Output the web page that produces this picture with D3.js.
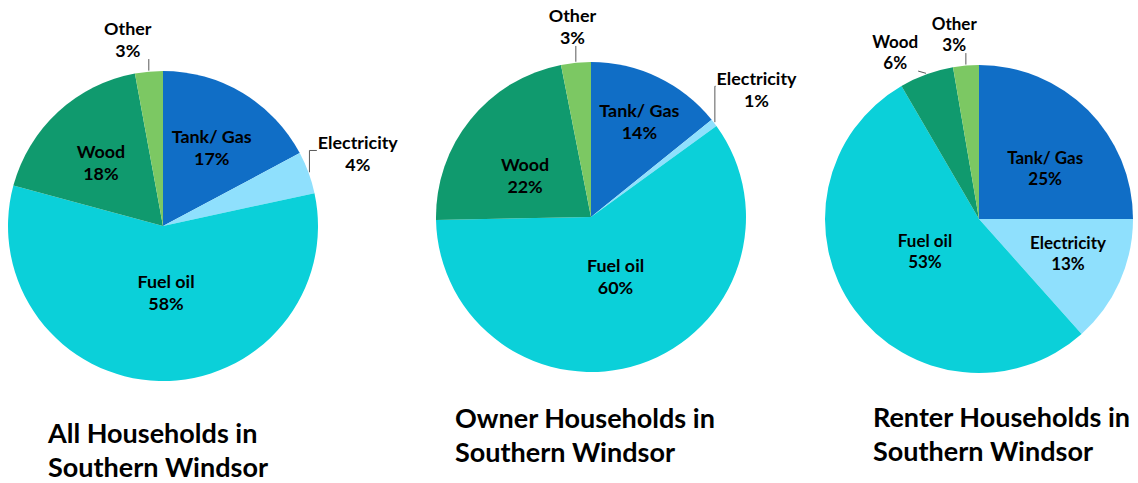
<!DOCTYPE html>
<html>
<head>
<meta charset="utf-8">
<script src="https://cdn.jsdelivr.net/npm/d3@7"></script>
<style>
  body { margin: 0; background: #fff; }
  svg { display: block; }
  text { font-family: Lato, "Open Sans", sans-serif; font-weight: bold; fill: #000; }
</style>
</head>
<body>
<script>
// data
var categories = ['Tank/ Gas', 'Electricity', 'Fuel oil', 'Wood', 'Other'];
var allValues = [17.2, 4.4, 57.6, 17.9, 2.9];
var ownerValues = [14.2, 0.8, 59.7, 22.2, 3.1];
var renterValues = [25.0, 13.4, 53.2, 5.7, 2.7];
var allTitle = ['All Households in', 'Southern Windsor'];
var ownerTitle = ['Owner Households in', 'Southern Windsor'];
var renterTitle = ['Renter Households in', 'Southern Windsor'];
var colors = ['#106EC6', '#8FE0FD', '#0BD0D9', '#109A6E', '#7CC863'];

// layout: label placement = [radius factor, angle nudge in degrees], leader type
var pies = [
  { values: allValues, title: allTitle, cx: 163, cy: 226, r: 155, tx: 48, ty: 443, labelScale: 1,
    place: [[0.594, 1], [1.339, 0], [0.433, -4], [0.570, -2], [1.221, -5.5]],
    leader: [null, 'side', null, null, 'bottom'] },
  { values: ownerValues, title: ownerTitle, cx: 591, cy: 217, r: 155, tx: 455, ty: 428, labelScale: 1,
    place: [[0.688, 1.4], [1.345, 0], [0.418, -3.7], [0.501, -7], [1.232, 0]],
    leader: [null, 'side', null, null, 'bottom'] },
  { values: renterValues, title: renterTitle, cx: 979, cy: 219, r: 154, tx: 873, ty: 427, labelScale: 0.95,
    place: [[0.538, 8], [0.621, -2.6], [0.411, 4.6], [1.208, -6.8], [1.206, -2.8]],
    leader: [null, null, null, 'bottom', 'bottom'] }
];

var width = 1138, height = 483;
var svg = d3.select('body').append('svg').attr('width', width).attr('height', height);

// font size that gives a string a target width
function fitSize(str, target) {
  var t = svg.append('text').style('font-size', '100px').text(str);
  var w = t.node().getComputedTextLength();
  t.remove();
  return 100 * target / w;
}
var titleSize = fitSize('Owner Households in', 260);
var labelSize = fitSize('Electricity', 80);

var pie = d3.pie().sort(null).value(function (d) { return d; });
var deg = Math.PI / 180;
var line = d3.line();

pies.forEach(function (p) {
  var g = svg.append('g').attr('transform', 'translate(' + p.cx + ',' + p.cy + ')');
  var arcs = pie(p.values);
  var arc = d3.arc().innerRadius(0).outerRadius(p.r);

  g.selectAll('path.slice')
    .data(arcs)
    .enter()
    .append('path')
    .attr('class', 'slice')
    .attr('d', arc)
    .attr('fill', function (d, i) { return colors[i]; });

  var edgeArc = d3.arc().innerRadius(p.r + 1).outerRadius(p.r + 1);

  arcs.forEach(function (d, i) {
    var mid = (d.startAngle + d.endAngle) / 2;
    var a = mid + p.place[i][1] * deg;
    var lr = p.place[i][0] * p.r;
    var pos = d3.arc().innerRadius(lr).outerRadius(lr).centroid({ startAngle: a, endAngle: a });
    var s = p.labelScale;
    var b1 = pos[1] - 5 * s;

    var t = g.append('text')
      .attr('text-anchor', 'middle')
      .style('font-size', (labelSize * s) + 'px');
    t.append('tspan').attr('x', pos[0]).attr('y', b1).text(categories[i]);
    t.append('tspan').attr('x', pos[0]).attr('y', pos[1] + 17 * s).text(Math.round(d.value) + '%');

    // leader lines for labels outside the pie
    if (p.leader[i]) {
      var e = edgeArc.centroid({ startAngle: mid, endAngle: mid });
      var bb = t.node().getBBox();
      var pts;
      if (p.leader[i] === 'side') {
        var ax = e[0] < bb.x ? bb.x - 1 : bb.x + bb.width + 1;
        pts = [e, [e[0], b1 + 1], [ax, b1 + 1]];
      } else {
        var cx = Math.max(bb.x, Math.min(bb.x + bb.width, e[0]));
        pts = [e, [cx, bb.y + bb.height - 2]];
      }
      g.append('path')
        .attr('d', line(pts))
        .attr('fill', 'none')
        .attr('stroke', '#595959')
        .attr('stroke-width', 1);
    }
  });

  // chart title under the pie
  var title = svg.append('text')
    .attr('x', p.tx)
    .attr('y', p.ty)
    .style('font-size', titleSize + 'px');
  p.title.forEach(function (str, k) {
    title.append('tspan').attr('x', p.tx).attr('y', p.ty + k * 33.5).text(str);
  });
});
</script>
</body>
</html>
